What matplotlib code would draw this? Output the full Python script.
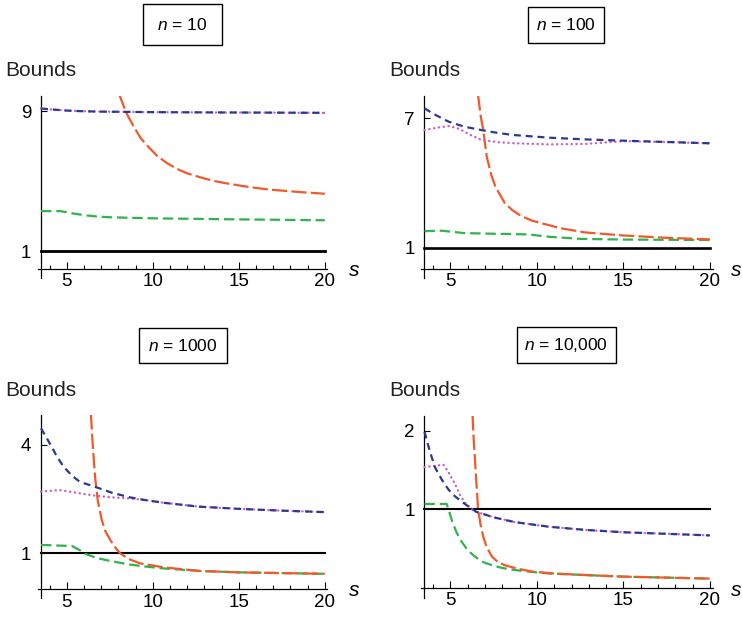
import matplotlib
matplotlib.use("Agg")
import matplotlib.pyplot as plt
from matplotlib.patches import Rectangle

plt.rcParams['font.family'] = ['Liberation Sans', 'DejaVu Sans']
plt.rcParams['mathtext.fontset'] = 'custom'
plt.rcParams['mathtext.it'] = 'Liberation Sans:italic'
plt.rcParams['mathtext.rm'] = 'Liberation Sans'
plt.rcParams['lines.scale_dashes'] = False

# ---- data (s, bound value) ----
# n = 10
S10_BLUE = [3.5, 4, 5, 6, 7, 8, 10, 12, 15, 20]
V10_BLUE = [9.15, 9.10, 9.03, 8.99, 8.97, 8.96, 8.94, 8.93, 8.92, 8.90]
S10_MAG = [3.5, 4, 5, 6, 7, 8, 10, 12, 15, 20]
V10_MAG = [9.15, 9.10, 9.03, 8.99, 8.97, 8.96, 8.94, 8.93, 8.92, 8.90]
S10_RED = [8.05, 8.3, 8.5, 8.9, 9.3, 9.8, 10.25, 10.8, 11.4, 12.0, 12.75,
           13.5, 14.3, 15.1, 16.0, 17.0, 18.5, 20]
V10_RED = [9.95, 9.3, 8.82, 8.1, 7.45, 6.9, 6.45, 6.05, 5.71, 5.45, 5.23,
           5.03, 4.88, 4.75, 4.62, 4.51, 4.39, 4.29]
S10_GREEN = [3.5, 4.6, 5.0, 5.4, 6.0, 6.7, 7.5, 8.7, 10, 12.5, 15, 20]
V10_GREEN = [3.30, 3.30, 3.24, 3.16, 3.07, 3.00, 2.95, 2.92, 2.89, 2.86, 2.83, 2.78]

# n = 100
S100_BLUE = [3.5, 4, 4.9, 5.8, 6.8, 7.8, 8.7, 10.7, 12.8, 15, 17.5, 20]
V100_BLUE = [7.45, 7.2, 6.83, 6.6, 6.44, 6.3, 6.21, 6.09, 6.01, 5.95, 5.89, 5.83]
S100_MAG = [3.5, 4.2, 4.9, 5.5, 6.2, 6.8, 7.8, 8.7, 10.7, 12.8, 15, 17.5, 20]
V100_MAG = [6.44, 6.55, 6.63, 6.5, 6.2, 5.98, 5.88, 5.83, 5.78, 5.8, 5.93, 5.89, 5.83]
S100_RED = [6.6, 6.75, 6.9, 7.1, 7.35, 7.6, 7.9, 8.15, 8.6, 9.1, 9.7, 10.3,
            11.4, 12.8, 15, 17.5, 20]
V100_RED = [8.05, 7.1, 6.44, 5.21, 4.4, 3.82, 3.4, 3.05, 2.72, 2.46, 2.25, 2.12,
            1.89, 1.70, 1.56, 1.45, 1.38]
S100_GREEN = [3.5, 4.5, 5.8, 7.5, 9.5, 10.7, 12.6, 15, 20]
V100_GREEN = [1.76, 1.78, 1.67, 1.64, 1.61, 1.50, 1.40, 1.37, 1.35]

# n = 1000
S1000_BLUE = [3.5, 4.0, 4.4, 4.8, 5.3, 5.75, 6.7, 7.6, 8.65, 9.6, 10.6, 12.7, 15, 17.5, 20]
V1000_BLUE = [4.46, 4.05, 3.7, 3.40, 3.15, 2.98, 2.83, 2.68, 2.55, 2.47, 2.40, 2.29,
              2.23, 2.18, 2.14]
S1000_MAG = [3.5, 4.6, 5.5, 6.7, 7.6, 8.65, 9.6, 10.6, 12.7, 15, 17.5, 20]
V1000_MAG = [2.71, 2.75, 2.68, 2.59, 2.55, 2.52, 2.47, 2.40, 2.29, 2.23, 2.18, 2.14]
S1000_RED = [6.4, 6.5, 6.64, 6.8, 7.03, 7.25, 7.52, 7.8, 8.09, 8.6, 9.25, 10.6,
             12.7, 15, 20]
V1000_RED = [4.85, 4.05, 3.12, 2.45, 1.92, 1.6, 1.37, 1.17, 1.0, 0.84, 0.72, 0.61,
             0.51, 0.47, 0.43]
S1000_GREEN = [3.5, 5.3, 5.7, 6.1, 6.8, 7.7, 8.6, 9.6, 10.6, 12.7, 15, 20]
V1000_GREEN = [1.23, 1.20, 1.10, 0.98, 0.86, 0.77, 0.69, 0.63, 0.58, 0.51, 0.47, 0.43]

# n = 10,000
S10K_BLUE = [3.5, 3.8, 4.1, 4.5, 4.9, 5.25, 5.65, 6.1, 6.5, 7.5, 8.7, 10.7, 12.8,
             15, 17.5, 20]
V10K_BLUE = [1.99, 1.75, 1.54, 1.38, 1.25, 1.17, 1.10, 1.03, 0.97, 0.90, 0.84, 0.78,
             0.74, 0.71, 0.69, 0.67]
S10K_MAG = [3.5, 4.6, 4.9, 5.25, 5.55, 5.85, 6.2, 6.5, 7.5, 8.7, 10.7, 12.8, 15, 17.5, 20]
V10K_MAG = [1.54, 1.57, 1.47, 1.33, 1.19, 1.08, 1.01, 0.97, 0.90, 0.84, 0.78, 0.74,
            0.71, 0.69, 0.67]
S10K_RED = [6.28, 6.33, 6.4, 6.5, 6.6, 6.75, 6.9, 7.1, 7.4, 7.75, 8.15, 8.9, 9.7,
            11, 12.8, 15, 20]
V10K_RED = [2.2, 1.95, 1.7, 1.35, 1.0, 0.8, 0.65, 0.52, 0.40, 0.33, 0.29, 0.245,
            0.21, 0.185, 0.165, 0.145, 0.12]
S10K_GREEN = [3.5, 4.78, 4.95, 5.1, 5.35, 5.65, 6.0, 6.42, 6.9, 7.4, 8.0, 8.7, 9.7,
              10.7, 12.8, 15, 20]
V10K_GREEN = [1.07, 1.07, 0.96, 0.85, 0.71, 0.59, 0.48, 0.40, 0.33, 0.29, 0.255,
              0.23, 0.205, 0.185, 0.165, 0.145, 0.12]

S_ONE = [3.5, 20]
V_ONE = [1, 1]

TITLES = ["10", "100", "1000", "10,000"]
YTICKS = [[1, 9], [1, 7], [1, 4], [1, 2]]

W, H = 742, 618


def fig_rect(left, top, right, bottom):
    return [left / W, 1 - bottom / H, (right - left) / W, (bottom - top) / H]


def fx(x):
    return x / W


def fy(y):
    return 1 - y / H


fig = plt.figure(figsize=(W / 100, H / 100), dpi=100)

# layout: axes box (px), ylim, title box (px), label anchors (px)
panels = [
    dict(box=(37.6, 96, 327.4, 278), ylim=(-0.51, 9.86), tbox=(143, 4, 222, 45),
         bounds=(5, 70), slab=(349, 270), lw1=2.0,
         series=(S10_BLUE, V10_BLUE, S10_MAG, V10_MAG, S10_RED, V10_RED,
                 S10_GREEN, V10_GREEN)),
    dict(box=(421, 96, 712.5, 278), ylim=(-0.41, 8.02), tbox=(527.7, 7, 603.7, 43),
         bounds=(389, 70), slab=(731, 270), lw1=1.9,
         series=(S100_BLUE, V100_BLUE, S100_MAG, V100_MAG, S100_RED, V100_RED,
                 S100_GREEN, V100_GREEN)),
    dict(box=(37.6, 415, 327.4, 598), ylim=(-0.24, 4.83), tbox=(139, 328, 227, 363),
         bounds=(5, 390), slab=(349, 590), lw1=1.5,
         series=(S1000_BLUE, V1000_BLUE, S1000_MAG, V1000_MAG, S1000_RED, V1000_RED,
                 S1000_GREEN, V1000_GREEN)),
    dict(box=(421, 416, 712.5, 598), ylim=(-0.127, 2.19), tbox=(516.7, 327, 616, 362.7),
         bounds=(389, 390), slab=(731, 590), lw1=1.5,
         series=(S10K_BLUE, V10K_BLUE, S10K_MAG, V10K_MAG, S10K_RED, V10K_RED,
                 S10K_GREEN, V10K_GREEN)),
]

BLUE = "#2b3990"
MAGENTA = "#cc5fc4"
RED = "#f1592a"
GREEN = "#2fb34a"

for i, p in enumerate(panels):
    ax = fig.add_axes(fig_rect(*p["box"]))
    ax.patch.set_alpha(0)
    ax.set_xlim(3.3, 20.15)
    ax.set_ylim(*p["ylim"])
    for side in ("top", "right"):
        ax.spines[side].set_visible(False)
    ax.spines["left"].set_position(("data", 3.5))
    ax.spines["bottom"].set_position(("data", 0))
    for side in ("left", "bottom"):
        ax.spines[side].set_linewidth(0.9)

    ax.set_xticks([5, 10, 15, 20])
    ax.set_xticks([k for k in range(4, 21) if k % 5], minor=True)
    ax.set_yticks(YTICKS[i])
    ax.tick_params(axis="x", which="major", direction="in", length=5, width=0.8,
                   pad=3, labelsize=13.5)
    ax.tick_params(axis="x", which="minor", direction="in", length=3, width=0.8)
    ax.tick_params(axis="y", direction="in", length=4, width=0.8, pad=7,
                   labelsize=13.5)

    sb, vb, sm, vm, sr, vr, sg, vg = p["series"]
    ax.plot(S_ONE, V_ONE, color="black", lw=p["lw1"], zorder=2)
    ax.plot(sg, vg, color=GREEN, lw=1.6, dashes=(7.5, 3.5), zorder=3)
    ax.plot(sr, vr, color=RED, lw=1.6, dashes=(11, 3), zorder=4)
    ax.plot(sm, vm, color=MAGENTA, lw=1.7, dashes=(0.2, 3.3),
            dash_capstyle="round", zorder=5)
    ax.plot(sb, vb, color=BLUE, lw=1.6, dashes=(5, 3.5), zorder=6)

    # title box
    x0, y0, x1, y1 = p["tbox"]
    fig.add_artist(Rectangle((fx(x0), fy(y1)), (x1 - x0) / W, (y1 - y0) / H,
                             transform=fig.transFigure, fill=False, lw=1.0,
                             edgecolor="black"))
    fig.text(fx((x0 + x1) / 2), fy((y0 + y1) / 2), r"$n$ = " + TITLES[i],
             ha="center", va="center", fontsize=12.5)

    bx, by = p["bounds"]
    fig.text(fx(bx), fy(by), "Bounds", ha="left", va="center", fontsize=15,
             color="#222222")
    sx, sy = p["slab"]
    fig.text(fx(sx), fy(sy), "s", ha="left", va="center", fontsize=15,
             style="italic")

fig.savefig("out.png", dpi=100)
